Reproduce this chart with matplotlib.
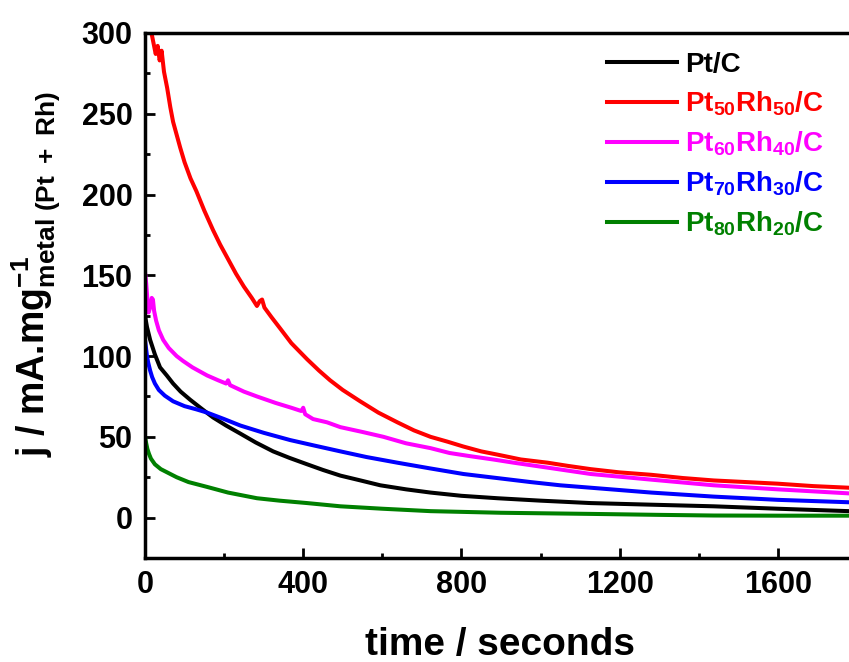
import matplotlib
matplotlib.use("Agg")
import matplotlib.pyplot as plt
from matplotlib.ticker import MultipleLocator

plt.rcParams['font.family'] = ['Liberation Sans', 'DejaVu Sans']
plt.rcParams['font.weight'] = 'bold'
plt.rcParams['mathtext.fontset'] = 'custom'
plt.rcParams['mathtext.rm'] = 'Liberation Sans:bold'
plt.rcParams['mathtext.bf'] = 'Liberation Sans:bold'
plt.rcParams['mathtext.it'] = 'Liberation Sans:bold'
plt.rcParams['mathtext.default'] = 'bf'

# chronoamperometry curves (time in s, j in mA/mg)
t_pt = [0, 5, 13, 25, 38, 55, 71, 90, 114, 140, 172, 205, 241, 280, 324, 365, 410,
        450, 494, 545, 595, 660, 722, 800, 891, 1000, 1127, 1280, 1438, 1600, 1780]
j_pt = [125, 118, 110, 101, 93, 88, 83, 78, 73, 68, 62, 57, 52, 46.5, 41, 37, 33,
        29.5, 26, 23, 20, 17.5, 15.5, 13.5, 12, 10.5, 9, 8, 7, 5.5, 4]

t_5050 = [5, 18, 27, 32, 37, 42, 48, 56, 64, 71, 80, 89, 100, 115, 130, 150, 172,
          190, 210, 230, 250, 270, 283, 290, 296, 302, 320, 342, 370, 410, 440, 468,
          500, 544, 590, 638, 680, 722, 765, 805, 850, 891, 950, 1018, 1070, 1127,
          1200, 1280, 1360, 1438, 1520, 1600, 1690, 1780]
j_5050 = [312, 298, 287, 292, 283, 289, 276, 266, 254, 245, 237, 229, 220, 210, 202,
          190, 178, 169, 160, 151, 143, 136, 131, 134, 135, 130, 124, 117, 108, 98,
          91, 85, 79, 72, 65, 59, 54, 50, 47, 44, 41, 39, 36, 34, 32, 30, 28, 26.5,
          24.5, 23, 22, 21, 19.5, 18.5]

t_6040 = [0, 3, 6, 9, 13, 17, 20, 23, 28, 35, 46, 60, 80, 96, 120, 157, 185, 205,
          210, 215, 250, 283, 330, 370, 395, 400, 405, 425, 460, 494, 550, 603, 660,
          722, 770, 823, 880, 932, 1030, 1127, 1280, 1438, 1600, 1780]
j_6040 = [152, 145, 135, 127, 130, 136, 135, 128, 122, 116, 110, 105, 100, 97, 93,
          88, 85, 83, 85, 82, 78, 75, 71, 68, 66, 68, 64, 61, 59, 56, 53, 50, 46, 43,
          40, 38, 36, 34, 30.5, 27, 23.5, 20, 17.5, 15]

t_7030 = [0, 2, 5, 8, 13, 18, 25, 35, 50, 71, 100, 130, 157, 200, 241, 300, 367,
          430, 494, 560, 638, 720, 805, 890, 975, 1050, 1127, 1280, 1438, 1600, 1780]
j_7030 = [110, 106, 100, 96, 91, 87, 83, 79, 75.5, 72, 69, 67, 65, 61, 57, 52.5, 48,
          44.5, 41, 37.5, 34, 30.5, 27, 24.5, 22, 20, 18.5, 15.5, 13, 11, 9.5]

t_8020 = [0, 3, 6, 10, 15, 25, 40, 56, 80, 110, 157, 210, 283, 340, 410, 494, 600,
          722, 900, 1127, 1300, 1438, 1600, 1780]
j_8020 = [50, 46, 42.5, 39.5, 36.5, 33, 30, 28, 25, 22, 19, 15.5, 12, 10.5, 9, 7,
          5.5, 4, 3, 2.3, 1.7, 1.3, 1.2, 1.2]

series = [
    (t_pt, j_pt, 'black', 'Pt/C'),
    (t_5050, j_5050, '#ff0000', r'Pt$_{50}$Rh$_{50}$/C'),
    (t_6040, j_6040, '#ff00ff', r'Pt$_{60}$Rh$_{40}$/C'),
    (t_7030, j_7030, '#0000ff', r'Pt$_{70}$Rh$_{30}$/C'),
    (t_8020, j_8020, '#008000', r'Pt$_{80}$Rh$_{20}$/C'),
]

fig = plt.figure(figsize=(8.49, 6.62), dpi=100)
ax = fig.add_axes([0.1708, 0.1571, 0.8292, 0.7931])

for t, j, c, lab in series:
    ax.plot(t, j, color=c, lw=2.9, label=lab, solid_joinstyle='round')

ax.set_xlim(0, 1780)
ax.set_ylim(-25, 300)
ax.xaxis.set_major_locator(MultipleLocator(400))
ax.xaxis.set_minor_locator(MultipleLocator(200))
ax.yaxis.set_major_locator(MultipleLocator(50))
ax.yaxis.set_minor_locator(MultipleLocator(25))

ax.spines['right'].set_visible(False)
for s in ['left', 'bottom', 'top']:
    ax.spines[s].set_linewidth(2.5)

ax.tick_params(which='both', direction='in', width=2, top=False, right=False)
ax.tick_params(which='major', length=7, labelsize=22, pad=9)
ax.tick_params(which='minor', length=3.5)

ax.set_xlabel('time / seconds', fontsize=28, fontweight='bold', va='center')
ax.xaxis.set_label_coords(0.504, -0.166)
ax.set_ylabel(r'j / mA.mg$^{-1}_{metal\ (Pt\ +\ Rh)}$', fontsize=27,
              fontweight='bold', va='center')
ax.yaxis.set_label_coords(-0.155, 0.54)

leg = ax.legend(loc='upper right', bbox_to_anchor=(1.0, 1.012), frameon=False,
                prop={'size': 20, 'weight': 'bold'}, labelcolor='linecolor',
                handlelength=2.5, handletextpad=0.3, labelspacing=0.42)

fig.savefig('out.png', dpi=100)
